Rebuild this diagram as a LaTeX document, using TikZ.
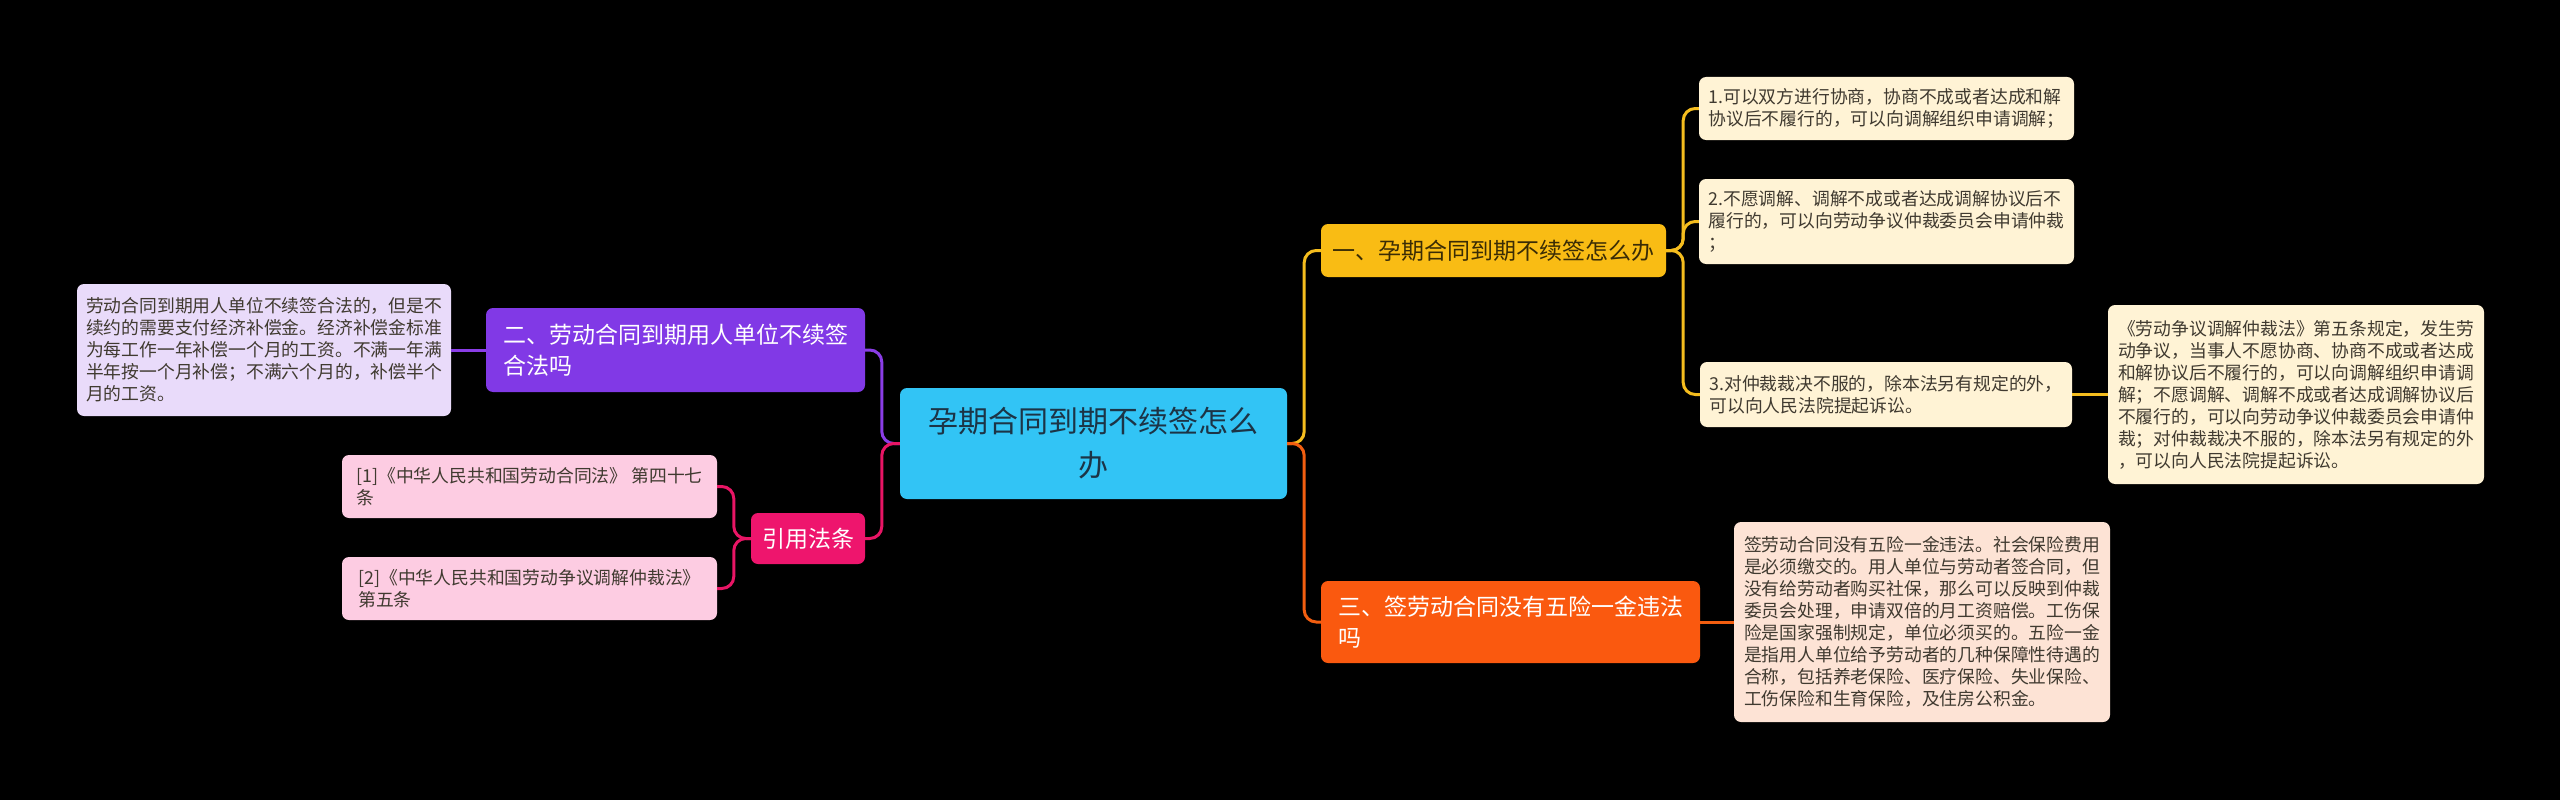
\documentclass[tikz,border=0pt]{standalone}
\usepackage{fontspec}
\setmainfont{Noto Sans CJK SC}
\definecolor{rootc}{HTML}{32C4F5}
\definecolor{roottx}{HTML}{1C3446}
\definecolor{yelc}{HTML}{F9BC14}
\definecolor{yeltx}{HTML}{3A2C05}
\definecolor{yleaf}{HTML}{FFF3D5}
\definecolor{leaftx}{HTML}{403A30}
\definecolor{orc}{HTML}{FA590F}
\definecolor{oleaf}{HTML}{FDE3D5}
\definecolor{puc}{HTML}{8139E6}
\definecolor{pleaf}{HTML}{E9DBFA}
\definecolor{pkc}{HTML}{EE156D}
\definecolor{pkleaf}{HTML}{FDCCE2}
\definecolor{ylin}{HTML}{F5BD1E}
\definecolor{olin}{HTML}{F25E10}
\definecolor{plin}{HTML}{8A3DE6}
\definecolor{klin}{HTML}{E81565}
\tikzset{
  box/.style={rounded corners=7pt, inner sep=0pt, align=left},
  rootbox/.style={box, fill=rootc, text=roottx, align=center, font=\fontsize{30pt}{44pt}\selectfont},
  branch/.style={box, font=\fontsize{23pt}{31pt}\selectfont},
  leaf/.style={box, text=leaftx, font=\fontsize{17.8pt}{22pt}\selectfont},
  conn/.style={line width=3pt, rounded corners=12pt},
}
\begin{document}
\begin{tikzpicture}[x=1pt,y=-1pt]
\fill[black] (0,0) rectangle (2560,800);
\useasboundingbox (0,0) rectangle (2560,800);

% root
\node[rootbox, minimum width=387pt, minimum height=111pt] (root) at (1093.5,443.5) {孕期合同到期不续签怎么\\办};

% branch 1
\node[branch, fill=yelc, text=yeltx, minimum width=345pt, minimum height=53pt] (b1) at (1493.5,250.5) {一、孕期合同到期不续签怎么办};
\node[leaf, fill=yleaf, minimum width=375pt, minimum height=63pt] (l1) at (1886.5,108.5) {1.可以双方进行协商，协商不成或者达成和解\\协议后不履行的，可以向调解组织申请调解；};
\node[leaf, fill=yleaf, minimum width=375pt, minimum height=85pt] (l2) at (1886.5,221.5) {2.不愿调解、调解不成或者达成调解协议后不\\履行的，可以向劳动争议仲裁委员会申请仲裁\\；};
\node[leaf, fill=yleaf, minimum width=372pt, minimum height=65pt] (l3) at (1886,394.5) {3.对仲裁裁决不服的，除本法另有规定的外，\\可以向人民法院提起诉讼。};
\node[leaf, fill=yleaf, minimum width=376pt, minimum height=179pt] (d13) at (2296,394.5) {《劳动争议调解仲裁法》第五条规定，发生劳\\动争议，当事人不愿协商、协商不成或者达成\\和解协议后不履行的，可以向调解组织申请调\\解；不愿调解、调解不成或者达成调解协议后\\不履行的，可以向劳动争议仲裁委员会申请仲\\裁；对仲裁裁决不服的，除本法另有规定的外\\，可以向人民法院提起诉讼。};

% branch 3
\node[branch, fill=orc, text=white, minimum width=379pt, minimum height=82pt] (b3) at (1510.5,622) {三、签劳动合同没有五险一金违法\\吗};
\node[leaf, fill=oleaf, minimum width=376pt, minimum height=200pt] (d3) at (1922,622) {签劳动合同没有五险一金违法。社会保险费用\\是必须缴交的。用人单位与劳动者签合同，但\\没有给劳动者购买社保，那么可以反映到仲裁\\委员会处理，申请双倍的月工资赔偿。工伤保\\险是国家强制规定，单位必须买的。五险一金\\是指用人单位给予劳动者的几种保障性待遇的\\合称，包括养老保险、医疗保险、失业保险、\\工伤保险和生育保险，及住房公积金。};

% branch 2
\node[branch, fill=puc, text=white, minimum width=379pt, minimum height=84pt] (b2) at (675.5,350) {二、劳动合同到期用人单位不续签\\合法吗};
\node[leaf, fill=pleaf, minimum width=374pt, minimum height=132pt] (d2) at (264,350) {劳动合同到期用人单位不续签合法的，但是不\\续约的需要支付经济补偿金。经济补偿金标准\\为每工作一年补偿一个月的工资。不满一年满\\半年按一个月补偿；不满六个月的，补偿半个\\月的工资。};

% branch 4
\node[branch, fill=pkc, text=white, align=center, minimum width=114pt, minimum height=51pt] (b4) at (808,538.5) {引用法条};
\node[leaf, fill=pkleaf, minimum width=375pt, minimum height=63pt] (r1) at (529.5,486.5) {[1]《中华人民共和国劳动合同法》 第四十七\\条};
\node[leaf, fill=pkleaf, minimum width=375pt, minimum height=63pt] (r2) at (529.5,588.5) {[2]《中华人民共和国劳动争议调解仲裁法》\\第五条};

% connectors
\draw[conn, draw=plin] (root.west) -- ++(-18,0) |- (b2.east);
\draw[conn, draw=klin] (root.west) -- ++(-18,0) |- (b4.east);
\draw[conn, draw=ylin] (root.east) -- ++(17,0) |- (b1.west);
\draw[conn, draw=olin] (root.east) -- ++(17,0) |- (b3.west);

\draw[conn, draw=ylin] (b1.east) -- ++(17,0) |- (l1.west);
\draw[conn, draw=ylin] (b1.east) -- ++(17,0) |- (l2.west);
\draw[conn, draw=ylin] (b1.east) -- ++(17,0) |- (l3.west);
\draw[conn, draw=ylin] (l3.east) -- (d13.west |- l3.east);

\draw[conn, draw=olin] (b3.east) -- (d3.west);
\draw[conn, draw=plin] (b2.west) -- (d2.east);

\draw[conn, draw=klin] (b4.west) -- ++(-17,0) |- (r1.east);
\draw[conn, draw=klin] (b4.west) -- ++(-17,0) |- (r2.east);
\end{tikzpicture}
\end{document}
